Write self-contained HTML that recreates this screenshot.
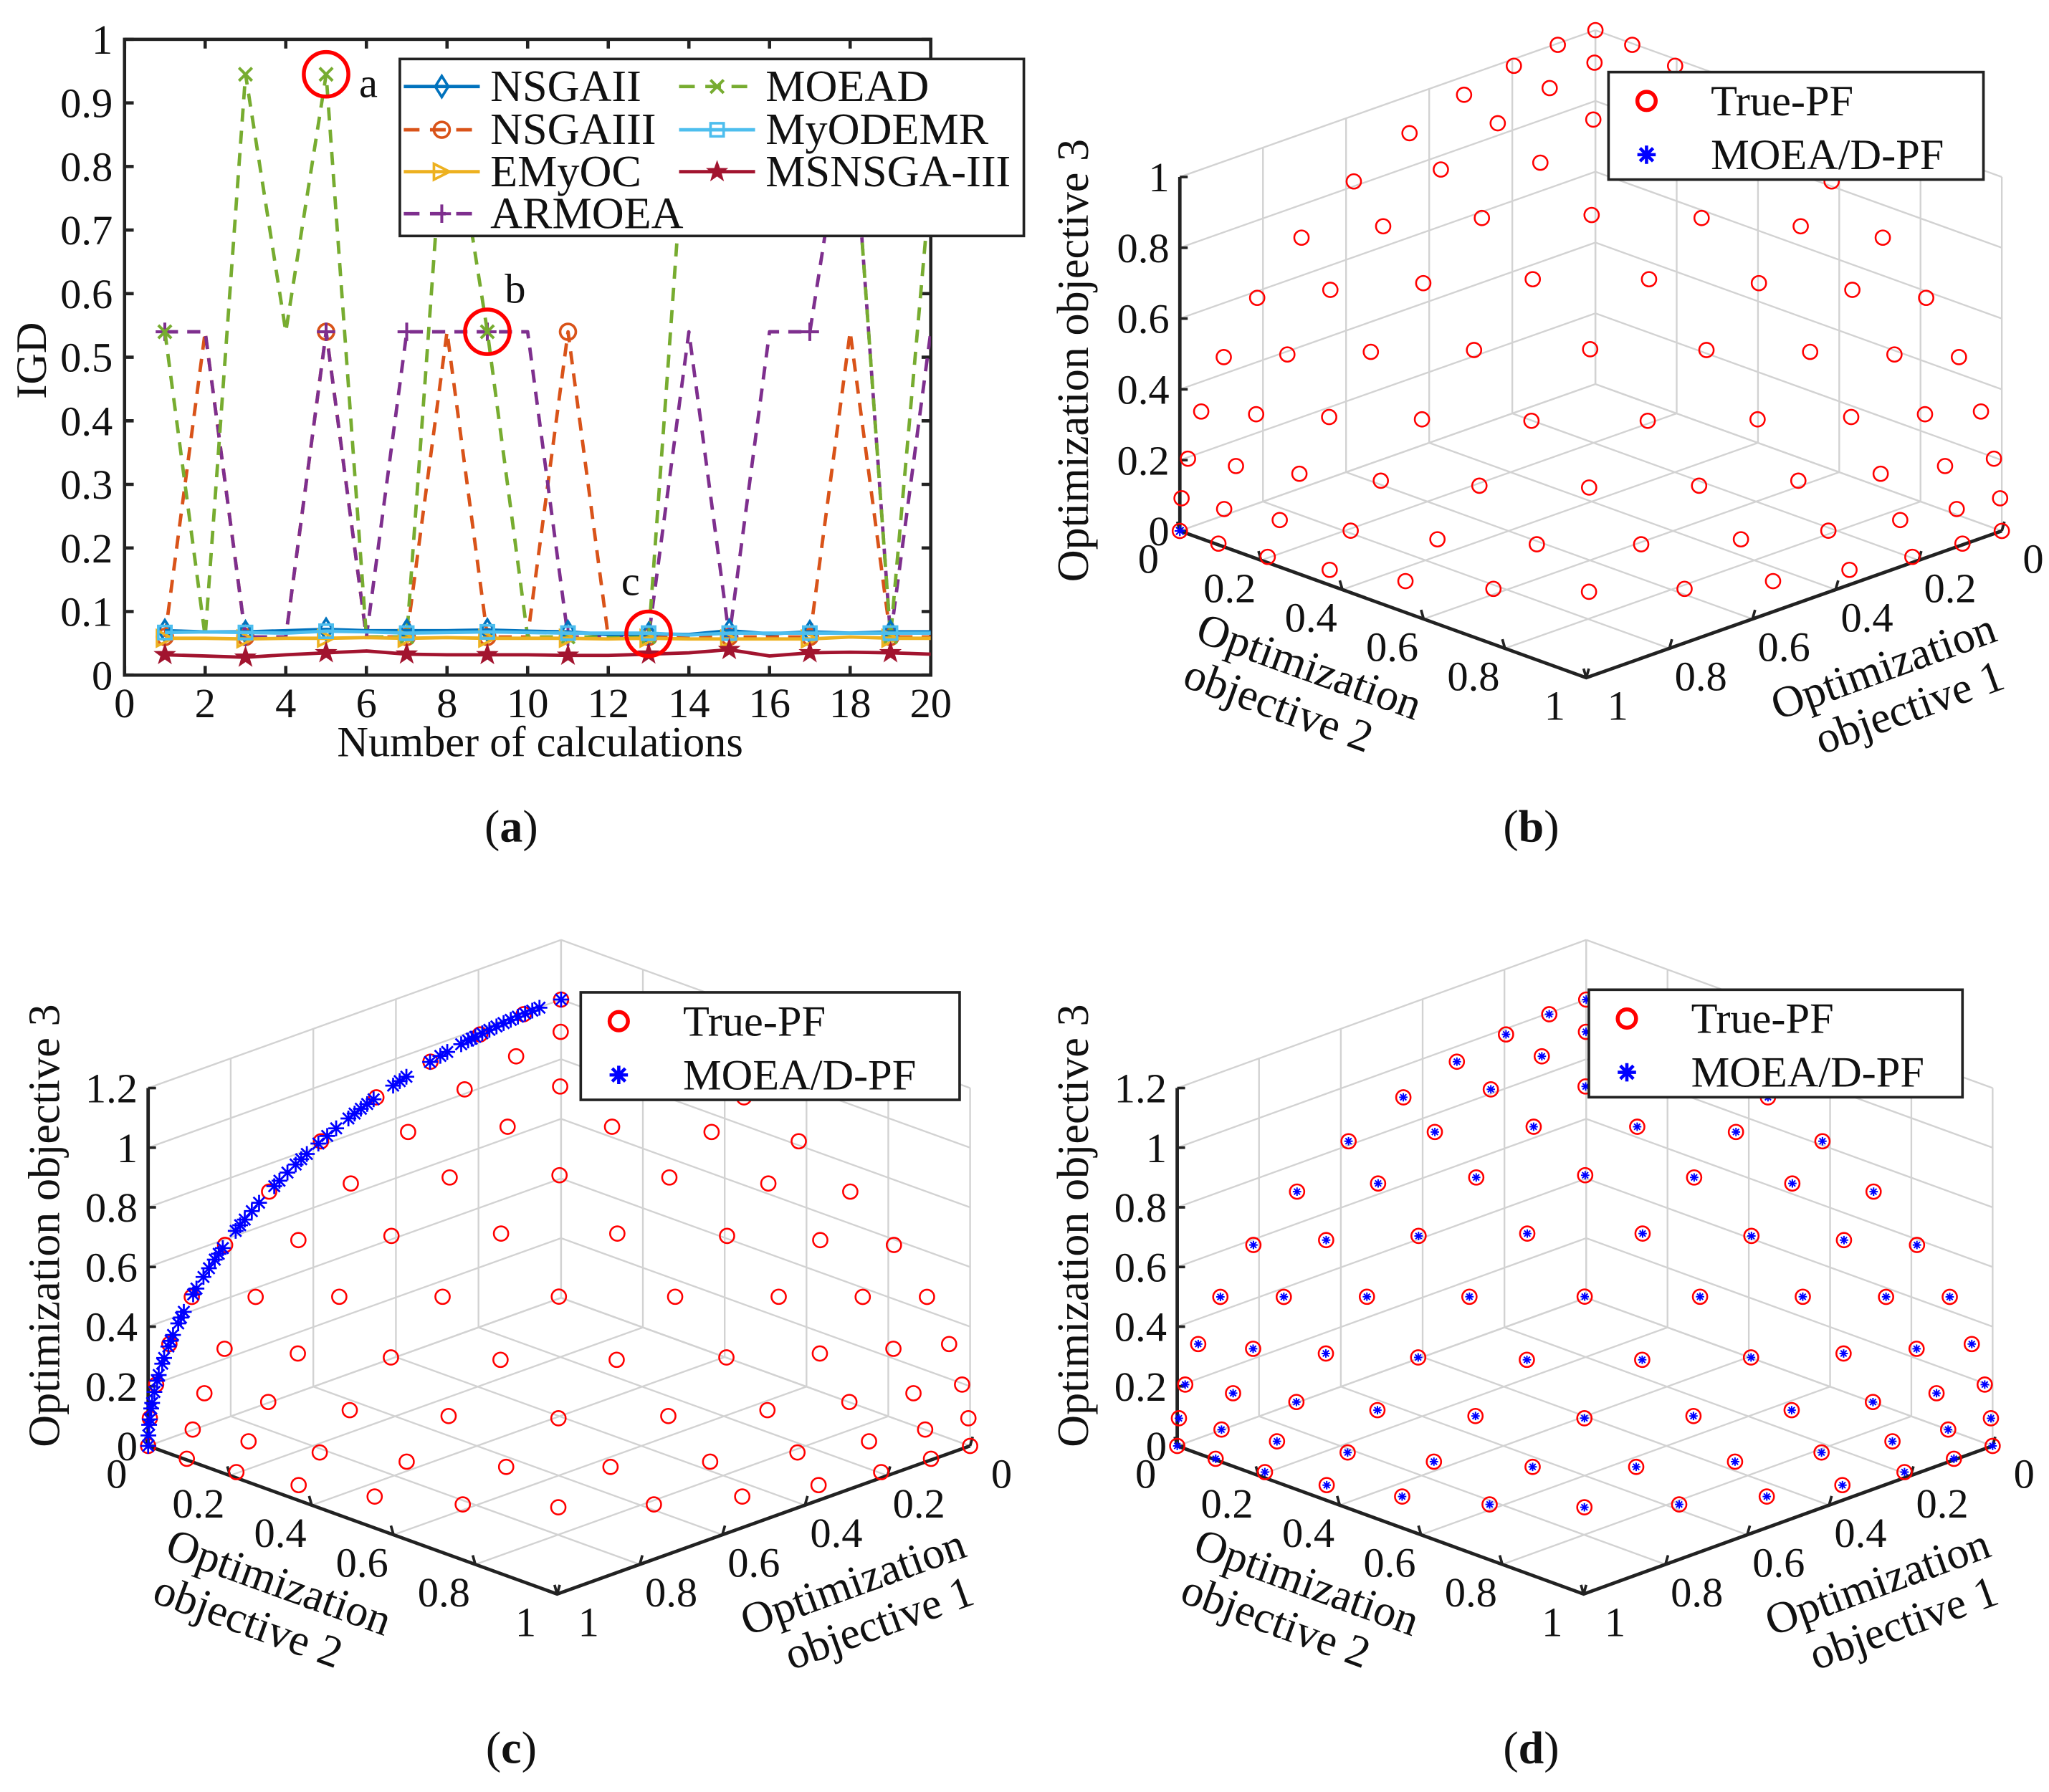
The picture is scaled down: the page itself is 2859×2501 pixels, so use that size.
<!DOCTYPE html>
<html><head><meta charset="utf-8"><style>
html,body{margin:0;padding:0;background:#fff;}
svg{display:block;}
text{font-family:"Liberation Serif","DejaVu Serif",serif;fill:#111;}
</style></head><body>
<svg id="fig" width="2859" height="2501" viewBox="0 0 1563 1367" preserveAspectRatio="none" xmlns="http://www.w3.org/2000/svg">
<rect x="0" y="0" width="1563" height="1367" fill="#fff"/>
<g id="pa"></g>
<g id="pb"></g>
<g id="pc"></g>
<g id="pd"></g>
<text x="390" y="642" text-anchor="middle" font-size="35">(<tspan font-weight="bold">a</tspan>)</text>
<text x="1168" y="642" text-anchor="middle" font-size="35">(<tspan font-weight="bold">b</tspan>)</text>
<text x="390" y="1345" text-anchor="middle" font-size="35">(<tspan font-weight="bold">c</tspan>)</text>
<text x="1168" y="1345" text-anchor="middle" font-size="35">(<tspan font-weight="bold">d</tspan>)</text>
</svg>
<script>
// ---------- Panel (a) data ----------
const runs = [1,2,3,4,5,6,7,8,9,10,11,12,13,14,15,16,17,18,19,20];
const xTicks = [0,2,4,6,8,10,12,14,16,18,20];
const yTicks = [0,0.1,0.2,0.3,0.4,0.5,0.6,0.7,0.8,0.9,1];
const yTickLabels = ["0","0.1","0.2","0.3","0.4","0.5","0.6","0.7","0.8","0.9","1"];
const nsga2 = [0.070,0.068,0.068,0.070,0.072,0.070,0.070,0.070,0.071,0.069,0.068,0.064,0.065,0.064,0.070,0.065,0.068,0.066,0.068,0.068];
const nsga3 = [0.060,0.540,0.060,0.060,0.540,0.060,0.060,0.540,0.060,0.060,0.540,0.060,0.060,0.060,0.060,0.060,0.060,0.540,0.060,0.060];
const emyoc = [0.058,0.058,0.057,0.058,0.058,0.059,0.058,0.059,0.058,0.058,0.058,0.057,0.058,0.057,0.057,0.057,0.057,0.060,0.058,0.058];
const armoea = [0.540,0.540,0.060,0.060,0.540,0.060,0.540,0.540,0.540,0.540,0.060,0.060,0.060,0.540,0.060,0.540,0.540,0.945,0.060,0.540];
const moead = [0.540,0.060,0.945,0.540,0.945,0.060,0.060,0.945,0.540,0.060,0.060,0.060,0.060,0.945,0.945,0.945,0.945,0.945,0.060,0.780];
const myodemr = [0.067,0.068,0.067,0.066,0.069,0.068,0.066,0.067,0.068,0.067,0.066,0.066,0.066,0.063,0.066,0.066,0.066,0.066,0.066,0.066];
const msnsga3 = [0.032,0.030,0.028,0.032,0.035,0.038,0.033,0.032,0.032,0.032,0.031,0.031,0.033,0.035,0.040,0.030,0.035,0.036,0.035,0.033];
const seriesNames = ["NSGAII","NSGAIII","EMyOC","ARMOEA","MOEAD","MyODEMR","MSNSGA-III"];

// ---------- 3D panels data ----------
const latticeH = 12;
const gridTicks = [0,0.2,0.4,0.6,0.8,1];
const zTicksB = [0,0.2,0.4,0.6,0.8,1];
const zTicksCD = [0,0.2,0.4,0.6,0.8,1,1.2];
const starAnglesC = [0,3,4,5,6,7,8,9,10,11,12,12.5,13,14,16,17,18.5,22,23,24,27,28,29,30,31,33,34.5,36,38,39,40,41.5,43,44,47,48.5,50,51,52,55,56,57,58.5,60,62,63,66,67,68,70,71,72,74,75,77,78,80,82,83,85,86,88,90];

const NS = "http://www.w3.org/2000/svg";
function mk(parent, tag, attrs, txt) {
  const e = document.createElementNS(NS, tag);
  for (const k in attrs) e.setAttribute(k, attrs[k]);
  if (txt !== undefined) e.textContent = txt;
  parent.appendChild(e);
  return e;
}
const TF = 32, TT = 34;

// ================= Panel (a) =================
(function(){
  const g = document.getElementById('pa');
  const X0 = 95, X1 = 710, Y0 = 515, Y1 = 30;
  const sx = v => X0 + (v - 0) / 20 * (X1 - X0);
  const sy = v => Y0 - v * (Y0 - Y1);
  const box = mk(g,'rect',{x:X0,y:Y1,width:X1-X0,height:Y0-Y1,fill:'none',stroke:'#222','stroke-width':2.5});
  
  
  xTicks.forEach(t=>{
    const x = sx(t);
    const tk = mk(g,'path',{d:`M${x},${Y0}v-7M${x},${Y1}v7`,stroke:'#222','stroke-width':2.5});
    
    
    const tl = mk(g,'text',{x:x,y:Y0+32,'text-anchor':'middle','font-size':TF},String(t));
    
    
  });
  yTicks.forEach((t,i)=>{
    const y = sy(t);
    const tk = mk(g,'path',{d:`M${X0},${y}h7M${X1},${y}h-7`,stroke:'#222','stroke-width':2.5});
    
    
    const tl = mk(g,'text',{x:X0-9,y:y+11,'text-anchor':'end','font-size':TF},yTickLabels[i]);
    
    
  });
  const xl = mk(g,'text',{x:412,y:577,'text-anchor':'middle','font-size':33},'Number of calculations');
  
  
  const yl = mk(g,'text',{x:0,y:0,'text-anchor':'middle','font-size':33,transform:'translate(35,275) rotate(-90)'},'IGD');
  
  

  function marker(p, type, x, y, color) {
    const s = 6;
    if (type==='diamond') return mk(p,'path',{d:`M${x},${y-s-2}L${x+s-1},${y}L${x},${y+s+2}L${x-s+1},${y}Z`,fill:'none',stroke:color,'stroke-width':2});
    if (type==='circle') return mk(p,'circle',{cx:x,cy:y,r:s,fill:'none',stroke:color,'stroke-width':2});
    if (type==='tri') return mk(p,'path',{d:`M${x-s},${y-s}L${x+s},${y}L${x-s},${y+s}Z`,fill:'none',stroke:color,'stroke-width':2});
    if (type==='plus') return mk(p,'path',{d:`M${x-s-1},${y}h${2*s+2}M${x},${y-s-1}v${2*s+2}`,stroke:color,'stroke-width':2.2});
    if (type==='x') return mk(p,'path',{d:`M${x-s+1},${y-s+1}l${2*s-2},${2*s-2}M${x-s+1},${y+s-1}l${2*s-2},${-2*s+2}`,stroke:color,'stroke-width':2.2});
    if (type==='square') return mk(p,'rect',{x:x-s+1,y:y-s+1,width:2*s-2,height:2*s-2,fill:'none',stroke:color,'stroke-width':2});
    if (type==='star') {
      let pts=[];
      for(let k=0;k<10;k++){const r=k%2?3:7.5;const a=-Math.PI/2+k*Math.PI/5;pts.push((x+r*Math.cos(a)).toFixed(1)+','+(y+r*Math.sin(a)).toFixed(1));}
      return mk(p,'polygon',{points:pts.join(' '),fill:color,stroke:color,'stroke-width':1});
    }
  }
  const defs = [
    {v:nsga3, c:'#D95319', dash:true, m:'circle', n:'series-nsgaiii'},
    {v:armoea,c:'#7E2F8E', dash:true, m:'plus', n:'series-armoea'},
    {v:moead, c:'#77AC30', dash:true, m:'x', n:'series-moead'},
    {v:nsga2, c:'#0072BD', dash:false,m:'diamond', n:'series-nsgaii'},
    {v:emyoc, c:'#EDB120', dash:false,m:'tri', n:'series-emyoc'},
    {v:myodemr,c:'#4DBEEE',dash:false,m:'square', n:'series-myodemr'},
    {v:msnsga3,c:'#A2142F',dash:false,m:'star', n:'series-msnsga-iii'}
  ];
  const clip = mk(g,'clipPath',{id:'clipA'});
  mk(clip,'rect',{x:X0,y:Y1,width:X1-X0,height:Y0-Y1});
  const lines = mk(g,'g',{'clip-path':'url(#clipA)'});
  defs.forEach(s=>{
    const sg = mk(lines,'g',{});
    
    
    const d = s.v.map((v,i)=>(i?'L':'M')+sx(runs[i]).toFixed(1)+','+sy(v).toFixed(1)).join('');
    const pa = {d:d,fill:'none',stroke:s.c,'stroke-width':2.6,'stroke-linejoin':'round'};
    if (s.dash) pa['stroke-dasharray']='10 7';
    mk(sg,'path',pa);
    s.v.forEach((v,i)=>{ if (runs[i]%2===1) { const mm = marker(sg,s.m,sx(runs[i]),sy(v),s.c);   } });
  });
  const ann = [[5,0.945,'a',281,74],[9,0.54,'b',393,231],[13,0.065,'c',481,454]];
  ann.forEach(a=>{
    const c = mk(g,'ellipse',{cx:sx(a[0]),cy:sy(a[1]),rx:17,ry:17,fill:'none',stroke:'#f00','stroke-width':3});
    
    
    const t = mk(g,'text',{x:a[3],y:a[4],'font-size':32,'text-anchor':'middle'},a[2]);
    
    
  });
  const lg = mk(g,'g',{});
  
  
  mk(lg,'rect',{x:305,y:45,width:476,height:135,fill:'#fff',stroke:'#222','stroke-width':2});
  const ent = [
    [0,'NSGAII',308,66],[1,'NSGAIII',308,99],[4,'EMyOC',308,131],[3,'ARMOEA',308,163],
    [2,'MOEAD',518,66],[5,'MyODEMR',518,99],[6,'MSNSGA-III',518,131]];
  const order = {0:3,1:0,2:2,3:1,4:4,5:5,6:6};
  ent.forEach(e=>{
    const s = defs[order[e[0]]];
    const eg = mk(lg,'g',{});
    
    
    const pa = {d:`M${e[2]},${e[3]}h58`,stroke:s.c,'stroke-width':2.6};
    if (s.dash) pa['stroke-dasharray']='12 8';
    mk(eg,'path',pa);
    marker(eg,s.m,e[2]+29,e[3],s.c);
    mk(eg,'text',{x:e[2]+66,y:e[3]+11,'font-size':34},e[1]);
  });
})();

// ================= 3D panels =================
function latticePoints(H){
  const pts=[];
  for(let i=0;i<=H;i++) for(let j=0;j<=H-i;j++){
    const k=H-i-j; const n=Math.sqrt(i*i+j*j+k*k);
    pts.push([i/n,j/n,k/n]);
  }
  return pts;
}
function panel3d(id, L, R, F, zs, zTicks, labelZ, legend, mode){
  const g = document.getElementById(id);
  const B = [L[0]+R[0]-F[0], L[1]+R[1]-F[1]];
  const P = (o1,o2,z)=>[B[0]+o1*(L[0]-B[0])+o2*(R[0]-B[0]), B[1]+o1*(L[1]-B[1])+o2*(R[1]-B[1])-z*zs];
  const zmax = zTicks[zTicks.length-1];
  const grid = mk(g,'g',{stroke:'#d2d2d2','stroke-width':1.3,fill:'none'});
  
  
  const line=(p,q)=>mk(grid,'path',{d:`M${p[0].toFixed(1)},${p[1].toFixed(1)}L${q[0].toFixed(1)},${q[1].toFixed(1)}`});
  gridTicks.forEach(t=>{
    line(P(t,0,0),P(t,0,zmax)); line(P(0,t,0),P(0,t,zmax));
    line(P(t,0,0),P(t,1,0)); line(P(0,t,0),P(1,t,0));
  });
  zTicks.forEach(z=>{ line(P(0,0,z),P(1,0,z)); line(P(0,0,z),P(0,1,z)); });
  const ax = mk(g,'path',{d:`M${L[0]},${P(1,0,zmax)[1]}L${L[0]},${L[1]}L${F[0]},${F[1]}L${R[0]},${R[1]}`,fill:'none',stroke:'#222','stroke-width':2.6});
  
  
  zTicks.forEach(z=>{
    const p=P(1,0,z);
    const tk=mk(g,'path',{d:`M${p[0]},${p[1]}h6`,stroke:'#222','stroke-width':2});
    
    
    const tl=mk(g,'text',{x:p[0]-8,y:p[1]+11,'text-anchor':'end','font-size':TF},String(z));
    
    
  });
  gridTicks.forEach(t=>{
    const a=P(1,t,0);
    const tk=mk(g,'path',{d:`M${a[0]},${a[1]}l-2,-7`,stroke:'#222','stroke-width':2});
    
    
    const tl=mk(g,'text',{x:a[0]-24,y:a[1]+32,'text-anchor':'middle','font-size':TF},String(t));
    
    
    const b=P(t,1,0);
    const tk2=mk(g,'path',{d:`M${b[0]},${b[1]}l2,-7`,stroke:'#222','stroke-width':2});
    
    
    const tl2=mk(g,'text',{x:b[0]+24,y:b[1]+32,'text-anchor':'middle','font-size':TF},String(t));
    
    
  });
  const ang = Math.atan2(F[1]-L[1],F[0]-L[0])*180/Math.PI;
  const m2=[(L[0]+F[0])/2, (L[1]+F[1])/2];
  const t2=mk(g,'text',{'font-size':TT,'text-anchor':'middle',transform:`translate(${m2[0]-60},${m2[1]+58}) rotate(${ang.toFixed(1)})`});
  
  
  mk(t2,'tspan',{x:0,dy:0},'Optimization');
  mk(t2,'tspan',{x:-12,dy:36},'objective 2');
  const m1=[(R[0]+F[0])/2, (R[1]+F[1])/2];
  const t1=mk(g,'text',{'font-size':TT,'text-anchor':'middle',transform:`translate(${m1[0]+72},${m1[1]+58}) rotate(${(-ang).toFixed(1)})`});
  
  
  mk(t1,'tspan',{x:0,dy:0},'Optimization');
  mk(t1,'tspan',{x:8,dy:36},'objective 1');
  const t3=mk(g,'text',{'font-size':TT,'text-anchor':'middle',transform:`translate(${labelZ[0]},${labelZ[1]}) rotate(-90)`},'Optimization objective 3');
  
  
  const pg = mk(g,'g',{});
  
  
  const pts = latticePoints(latticeH);
  pts.forEach(p=>{
    const q=P(p[0],p[1],p[2]);
    const c=mk(pg,'circle',{cx:q[0].toFixed(1),cy:q[1].toFixed(1),r:5.5,fill:'none',stroke:'#f00','stroke-width':1.4});
    
    
  });
  const sg = mk(g,'g',{});
  
  
  function star(x,y,s,w){
    const st = mk(sg,'path',{d:`M${x-s},${y}h${2*s}M${x},${y-s}v${2*s}M${x-s*0.72},${y-s*0.72}l${1.44*s},${1.44*s}M${x-s*0.72},${y+s*0.72}l${1.44*s},${-1.44*s}`,stroke:'#00f','stroke-width':w});
    
    
  }
  if (mode==='edge') {
    starAnglesC.forEach(a=>{ const r=a*Math.PI/180; const q=P(Math.sin(r),0,Math.cos(r)); star(q[0],q[1],6,1.5); });
  } else if (mode==='all') {
    pts.forEach(p=>{ const q=P(p[0],p[1],p[2]); star(q[0],q[1],3.2,1.1); });
  } else {
    const q=P(1,0,0); star(q[0],q[1],4,1.2);
  }
  const lg = mk(g,'g',{});
  
  
  mk(lg,'rect',{x:legend[0],y:legend[1],width:legend[2],height:82,fill:'#fff',stroke:'#222','stroke-width':2});
  const e1=mk(lg,'g',{});
  
  
  mk(e1,'circle',{cx:legend[0]+29,cy:legend[1]+22,r:7,fill:'none',stroke:'#f00','stroke-width':3});
  mk(e1,'text',{x:legend[0]+78,y:legend[1]+33,'font-size':33},'True-PF');
  const e2=mk(lg,'g',{});
  
  
  const x=legend[0]+29,y=legend[1]+63,s=7;
  mk(e2,'path',{d:`M${x-s},${y}h${2*s}M${x},${y-s}v${2*s}M${x-5},${y-5}l10,10M${x-5},${y+5}l10,-10`,stroke:'#00f','stroke-width':2.5});
  mk(e2,'text',{x:legend[0]+78,y:legend[1]+74,'font-size':33},'MOEA/D-PF');
}
panel3d('pb',[900,405],[1527,405],[1210,517],270,zTicksB,[830,275],[1227,55,286],'single');
panel3d('pc',[113,1103],[740,1103],[425,1216],227.5,zTicksCD,[45,935],[443,757,289],'edge');
panel3d('pd',[898,1103],[1520,1103],[1208,1216],227.5,zTicksCD,[830,935],[1212,755,285],'all');
</script>
</body></html>
